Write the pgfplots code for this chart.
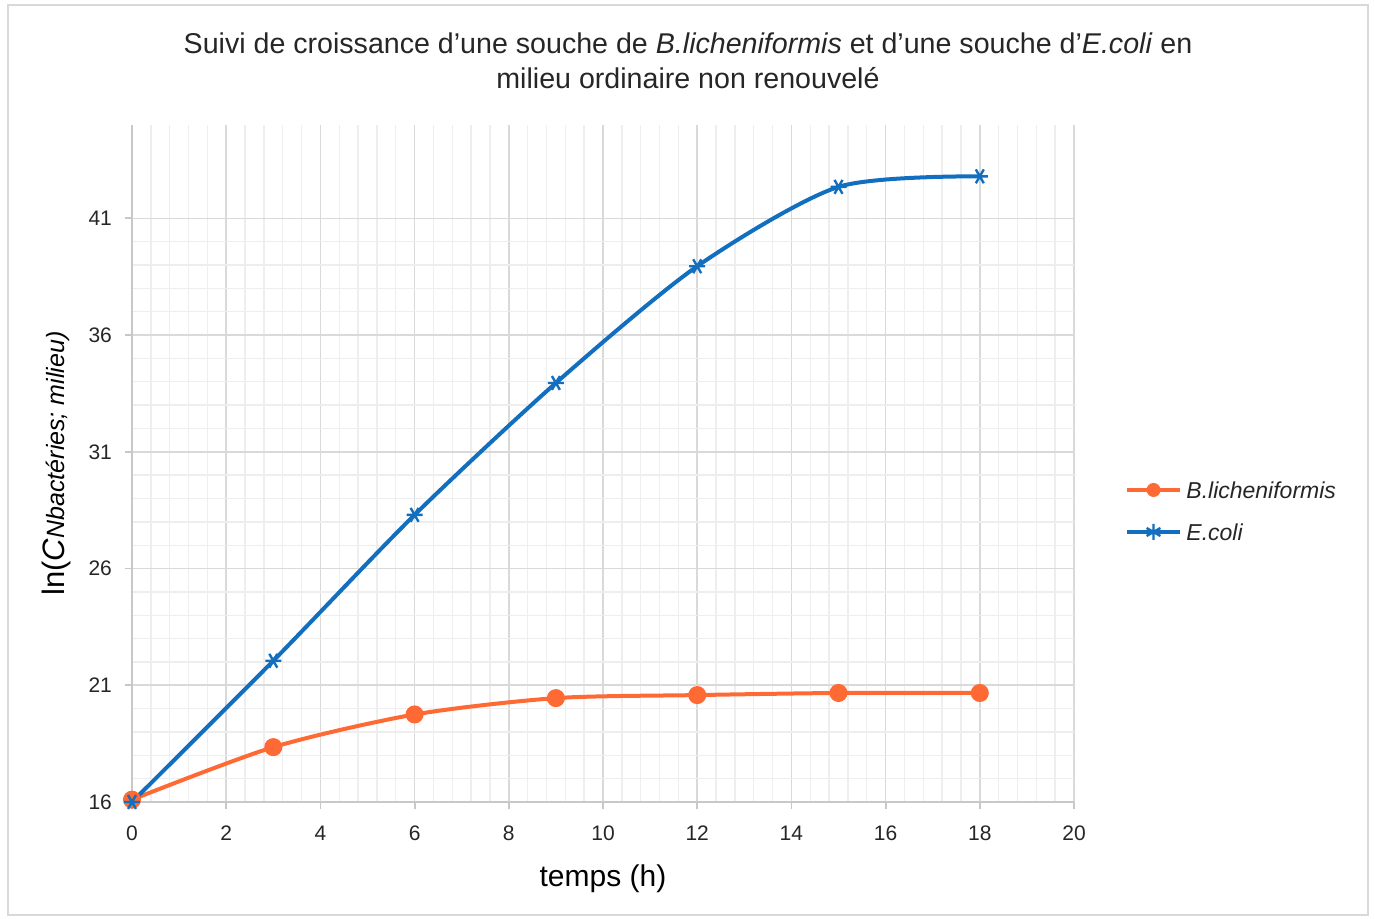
\documentclass[border=0pt]{standalone}
\usepackage{fontspec}
\setmainfont{Liberation Sans}
\usepackage{pgfplots}
\pgfplotsset{compat=1.18}

\definecolor{lichen}{RGB}{255,106,52}
\definecolor{ecoli}{RGB}{18,110,190}
\definecolor{majgrid}{RGB}{217,217,217}
\definecolor{mingrid}{RGB}{238,238,238}
\definecolor{axisgray}{RGB}{200,200,200}

\begin{document}
\begin{tikzpicture}
  % page is 1375x919 px at 0.5pt per px; plot area corner sits at (0,0)
  \useasboundingbox (-66pt,-58.5pt) rectangle (621.5pt,401pt);
  \draw[majgrid,line width=0.8pt] (-62pt,-56.5pt) rectangle (618pt,398.5pt);

  \begin{axis}[
    at={(0,0)}, anchor=south west,
    scale only axis,
    width=471pt, height=338.5pt,
    xmin=0, xmax=20, ymin=16, ymax=45,
    xtick={0,2,...,20},
    ytick={16,21,26,31,36,41},
    minor x tick num=4,
    minor y tick num=4,
    grid=both,
    major grid style={majgrid,line width=0.8pt},
    minor grid style={mingrid,line width=0.7pt},
    axis line style={axisgray,line width=0.9pt},
    axis x line*=bottom, axis y line*=left,
    tick align=outside,
    major tick length=3.5pt,
    minor tick length=0pt,
    tick style={axisgray,line width=0.9pt},
    every tick label/.append style={font=\fontsize{10.5}{12}\selectfont, text=black!85},
    xticklabel style={yshift=-5pt},
    yticklabel style={xshift=-3pt},
    /pgf/number format/assume math mode=true,
    xlabel={temps (h)},
    xlabel style={font=\fontsize{15}{17}\selectfont, yshift=-5pt},
    ylabel={ln(\textit{C}{\fontsize{12.5}{14}\selectfont\itshape Nbactéries; milieu)}},
    ylabel style={font=\fontsize{15.5}{17}\selectfont, yshift=2pt},
    clip=false,
  ]
    \addplot[lichen, line width=2pt, smooth, tension=0.45,
      mark=*, mark size=3.5pt, mark options={fill=lichen, draw=lichen}]
      coordinates {
        (0,16.1) (3,18.35) (6,19.75) (9,20.45) (12,20.58) (15,20.67) (18,20.67)
      };
    \addplot[ecoli, line width=2pt, smooth, tension=0.45,
      mark=asterisk, mark size=4pt, mark options={line width=1.2pt, rotate=90}]
      coordinates {
        (0,16) (3,22.05) (6,28.3) (9,33.95) (12,38.95) (15,42.35) (18,42.8)
      };
  \end{axis}

  % title
  \node[font=\fontsize{14.3}{17.5}\selectfont, align=center, text=black!85] at (278pt,370.5pt)
    {Suivi de croissance d'une souche de \textit{B.licheniformis} et d'une souche d'\textit{E.coli} en\\
     milieu ordinaire non renouvelé};

  % legend
  \draw[lichen, line width=2pt] (497.5pt,156pt) -- (524pt,156pt);
  \fill[lichen] (510.75pt,156pt) circle (3.5pt);
  \node[anchor=west, font=\fontsize{11.5}{13}\selectfont\itshape, inner sep=0pt, text=black!85] at (527pt,156pt) {B.licheniformis};
  \draw[ecoli, line width=2pt] (497.5pt,135pt) -- (524pt,135pt);
  \node[anchor=west, font=\fontsize{11.5}{13}\selectfont\itshape, inner sep=0pt, text=black!85] at (527pt,135pt) {E.coli};
  \begin{scope}[shift={(510.75pt,135pt)}]
    \draw[ecoli, line width=1.2pt] (0,-4pt) -- (0,4pt)
      (30:4pt) -- (210:4pt) (150:4pt) -- (330:4pt);
  \end{scope}
\end{tikzpicture}
\end{document}
